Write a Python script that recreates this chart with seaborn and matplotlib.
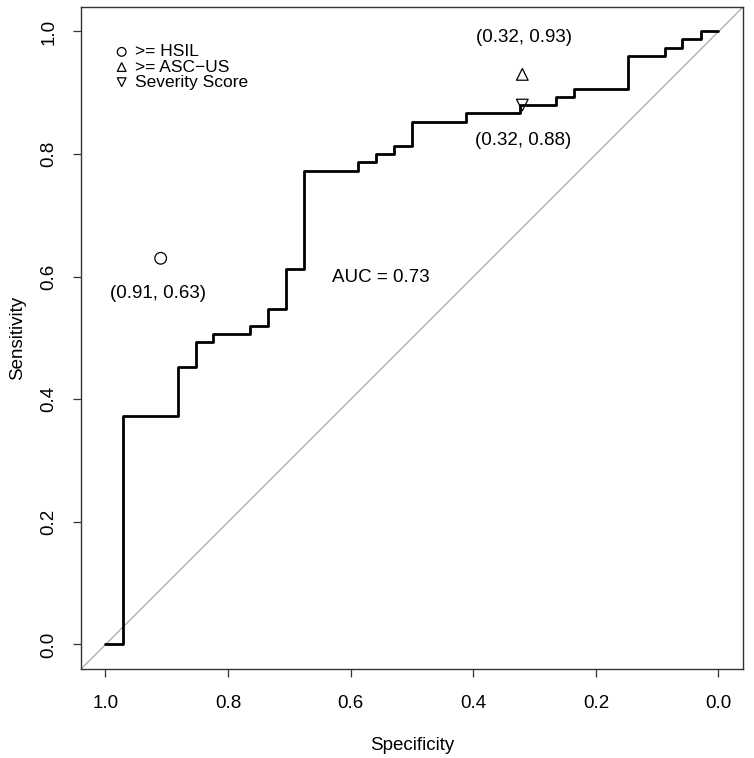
import numpy as np
import pandas as pd
from matplotlib import pyplot as plt
import seaborn as sns

# ROC curve corners (specificity, sensitivity)
specificity = [1.0, 0.971, 0.882, 0.853, 0.824, 0.765, 0.735, 0.706, 0.676, 0.588, 0.559,
               0.529, 0.500, 0.412, 0.324, 0.265, 0.235, 0.147, 0.088, 0.059, 0.029, 0.0]
sensitivity = [0.0, 0.373, 0.453, 0.493, 0.507, 0.520, 0.547, 0.613, 0.773, 0.787, 0.800,
               0.813, 0.853, 0.867, 0.880, 0.893, 0.907, 0.960, 0.973, 0.987, 1.0, 1.0]

point_names = ['>= HSIL', '>= ASC\u2212US', 'Severity Score']
point_spec = [0.91, 0.32, 0.32]
point_sens = [0.63, 0.93, 0.88]
point_markers = ['o', '^', 'v']
auc = 0.73

sns.set_style('ticks')
plt.rcParams['font.family'] = ['Liberation Sans', 'DejaVu Sans']
plt.rcParams['font.size'] = 13.5
plt.rcParams['text.color'] = 'black'
plt.rcParams['axes.labelcolor'] = 'black'
plt.rcParams['xtick.color'] = 'black'
plt.rcParams['ytick.color'] = 'black'

roc = pd.DataFrame({'spec': specificity, 'sens': sensitivity})

fig = plt.figure(figsize=(7.54, 7.58), dpi=100)
ax = fig.add_axes([0.1074, 0.1174, 0.878, 0.8734])

# identity line
ax.plot([1.04, -0.04], [-0.04, 1.04], color='#a8a8a8', lw=0.9, zorder=1)

sns.lineplot(data=roc, x='spec', y='sens', sort=False, drawstyle='steps-post',
             color='black', lw=2.0, ax=ax, zorder=3)

for name, sx, sy, m in zip(point_names, point_spec, point_sens, point_markers):
  ax.scatter(sx, sy, marker=m, s=70, facecolors='none', edgecolors='black',
             linewidths=0.9, label=name, zorder=4)

ax.text(0.914, 0.572, '(%.2f, %.2f)' % (point_spec[0], point_sens[0]), ha='center', va='center')
ax.text(0.317, 0.990, '(%.2f, %.2f)' % (point_spec[1], point_sens[1]), ha='center', va='center')
ax.text(0.318, 0.822, '(%.2f, %.2f)' % (point_spec[2], point_sens[2]), ha='center', va='center')
ax.text(0.551, 0.599, 'AUC = %.2f' % auc, ha='center', va='center')

ax.set_xlim(1.04, -0.04)
ax.set_ylim(-0.04, 1.04)
ax.set_xticks([1.0, 0.8, 0.6, 0.4, 0.2, 0.0])
ax.set_yticks([0.0, 0.2, 0.4, 0.6, 0.8, 1.0])
ax.set_xticklabels(['1.0', '0.8', '0.6', '0.4', '0.2', '0.0'])
ax.set_yticklabels(['0.0', '0.2', '0.4', '0.6', '0.8', '1.0'], rotation=90, va='center')
ax.tick_params(direction='out', length=6, width=0.9, color='#333333', pad=11)
ax.tick_params(axis='x', pad=13)
ax.set_xlabel('Specificity', labelpad=18)
ax.set_ylabel('Sensitivity', labelpad=10)
for s in ax.spines.values():
  s.set_visible(True)
  s.set_color('#333333')
  s.set_linewidth(1.0)

ax.legend(loc='upper left', bbox_to_anchor=(0.03, 0.962), frameon=False, fontsize=12.5,
          markerscale=0.75, handletextpad=0.25, labelspacing=0.0, handlelength=1.0,
          borderaxespad=0.3)

fig.savefig('out.png', dpi=100)
